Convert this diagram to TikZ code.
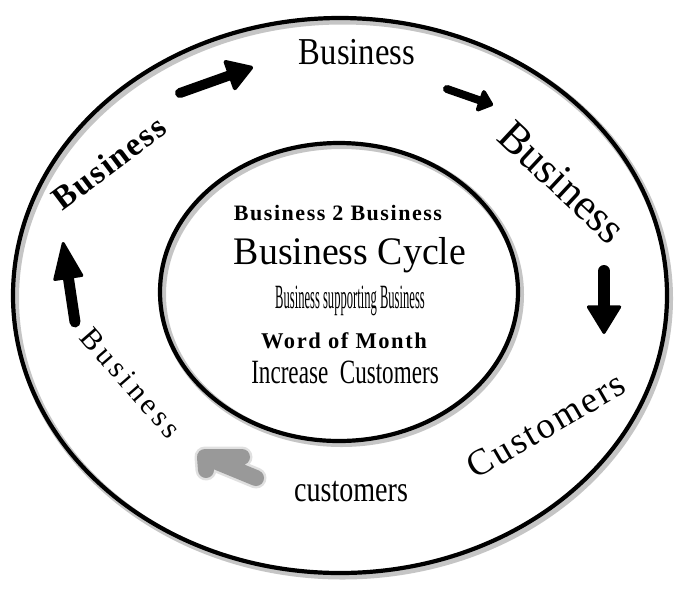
\documentclass[tikz,border=0pt]{standalone}
\usepackage{fontspec}
\setmainfont{Liberation Serif}
\newfontfamily\spA[LetterSpace=7]{Liberation Serif}
\newfontfamily\spB[LetterSpace=5]{Liberation Serif}
\newfontfamily\spC[LetterSpace=14]{Liberation Serif}
\newfontfamily\spD[LetterSpace=6]{Liberation Serif}
\usetikzlibrary{arrows.meta}
\tikzset{
  ring/.style={draw=black, line width=4.2},
  ringshadow/.style={draw=black!50, line width=7, opacity=0.45},
  lbl/.style={inner sep=0, anchor=base},
  rlbl/.style={inner sep=0, anchor=center},
  bigarrow/.style={draw=black, line cap=round, line join=round},
  grayarrow/.style={draw=black!40, line cap=round, line join=round, line width=16},
  grayblur/.style={draw=black!20, line cap=round, line join=round, line width=21, opacity=0.6},
}
\begin{document}
\begin{tikzpicture}[x=1pt,y=-1pt]
\useasboundingbox (0,0) rectangle (700,590);
\fill[white] (0,0) rectangle (700,590);
% rings
\draw[ringshadow] (342.5,298.5) ellipse [x radius=327, y radius=277.5];
\draw[ring] (340,295.5) ellipse [x radius=327, y radius=277.5];
\draw[ringshadow] (341.5,294.5) ellipse [x radius=179, y radius=149];
\draw[ring] (339,292) ellipse [x radius=179, y radius=149];
% center texts
\node[lbl] (b2b) at (338,220) {\spA\bfseries\fontsize{22}{26}\selectfont Business 2 Business};
\node[lbl, xscale=0.97] (cycle) at (350,264) {\fontsize{39}{44}\selectfont Business Cycle};
\node[lbl, xscale=0.37] (supp) at (350,308) {\fontsize{34}{38}\selectfont Business supporting Business};
\node[lbl] (word) at (344,348) {\spA\bfseries\fontsize{22.5}{26}\selectfont Word of Month};
\node[lbl, xscale=0.68] (incr) at (345,383) {\fontsize{34}{38}\selectfont Increase\ \ Customers};
% ring texts
\node[lbl, xscale=0.86] (top) at (357,64) {\fontsize{38}{42}\selectfont Business};
\node[rlbl, rotate=37] (left) at (109,163) {\spB\bfseries\fontsize{33}{38}\selectfont Business};
\node[rlbl, rotate=-43] (right) at (562,182) {\fontsize{44}{48}\selectfont Business};
\node[rlbl, rotate=-49] (lowleft) at (131,383) {\spC\fontsize{30}{34}\selectfont Business};
\node[rlbl, rotate=30] (cust) at (546,425) {\spD\fontsize{37}{42}\selectfont Customers};
\node[lbl, xscale=0.78] (bcust) at (351,501) {\fontsize{36}{40}\selectfont customers};
% arrow coordinates
\coordinate (a1t) at (180,93);  \coordinate (a1h) at (253,67);
\coordinate (a2t) at (447,89);  \coordinate (a2h) at (493,105);
\coordinate (a3t) at (604,271); \coordinate (a3h) at (604,334);
\coordinate (a4t) at (75,322);  \coordinate (a4h) at (63,242);
\coordinate (gt) at (256,478); \coordinate (gc) at (205,457);
\coordinate (ga) at (242,457); \coordinate (gb) at (206,470);
% arrows
\draw[bigarrow, line width=10, -{Triangle[round, line width=4pt, length=28pt, width=34pt]}] (a1t) -- (a1h);
\draw[bigarrow, line width=8, -{Triangle[round, line width=4pt, length=16pt, width=26pt]}] (a2t) -- (a2h);
\draw[bigarrow, line width=12, -{Triangle[round, line width=3pt, length=30pt, width=36pt]}] (a3t) -- (a3h);
\draw[bigarrow, line width=11, -{Triangle[round, line width=3pt, length=40pt, width=31pt]}] (a4t) -- (a4h);
\draw[grayblur] (gt) -- (gc) (ga) -- (gc) -- (gb);
\draw[grayarrow] (gt) -- (gc) (ga) -- (gc) -- (gb);
\end{tikzpicture}
\end{document}
